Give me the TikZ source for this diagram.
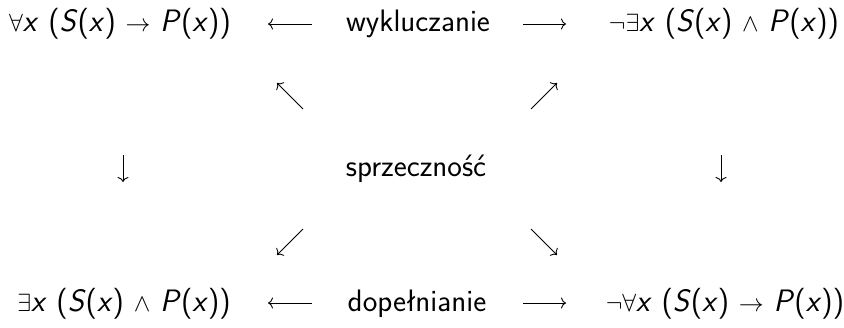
\documentclass[tikz,border=0pt]{standalone}
\usetikzlibrary{arrows.meta}
\renewcommand\familydefault{\sfdefault}
\newcommand\vi[1]{\textit{#1}}
\begin{document}
\begin{tikzpicture}[x=1pt,y=-1pt,
  lbl/.style={anchor=base,inner sep=0pt,font=\fontsize{31}{36}\selectfont\sffamily},
  arr/.style={line width=0.9pt,-{To[length=5pt,width=11pt]}}]
\useasboundingbox (0,0) rectangle (844,327);
% nodes
\node[lbl] (tl) at (120,31) {$\forall$\vi{x} (\vi{S}(\vi{x}) $\rightarrow$ \vi{P}(\vi{x}))};
\node[lbl] (tm) at (418,31) {wykluczanie};
\node[lbl] (tr) at (724,31) {$\neg\exists$\vi{x} (\vi{S}(\vi{x}) $\wedge$ \vi{P}(\vi{x}))};
\node[lbl] (mm) at (416,176) {sprzeczność};
\node[lbl] (bl) at (124,311) {$\exists$\vi{x} (\vi{S}(\vi{x}) $\wedge$ \vi{P}(\vi{x}))};
\node[lbl] (bm) at (417,311) {dopełnianie};
\node[lbl] (br) at (725,311) {$\neg\forall$\vi{x} (\vi{S}(\vi{x}) $\rightarrow$ \vi{P}(\vi{x}))};
% arrow end points
\coordinate (h1s) at (312,24); \coordinate (h1e) at (268,24);
\coordinate (h2s) at (523,24); \coordinate (h2e) at (566,24);
\coordinate (h3s) at (312,303); \coordinate (h3e) at (268,303);
\coordinate (h4s) at (523,303); \coordinate (h4e) at (566,303);
\coordinate (v1s) at (123,155); \coordinate (v1e) at (123,182);
\coordinate (v2s) at (721,155); \coordinate (v2e) at (721,182);
\coordinate (d1s) at (303,109); \coordinate (d1e) at (277,83);
\coordinate (d2s) at (531,109); \coordinate (d2e) at (557,83);
\coordinate (d3s) at (303,229); \coordinate (d3e) at (277,255);
\coordinate (d4s) at (531,229); \coordinate (d4e) at (557,255);
\foreach \a in {h1,h2,h3,h4,v1,v2,d1,d2,d3,d4}
  \draw[arr] (\a s) -- (\a e);
\end{tikzpicture}
\end{document}
